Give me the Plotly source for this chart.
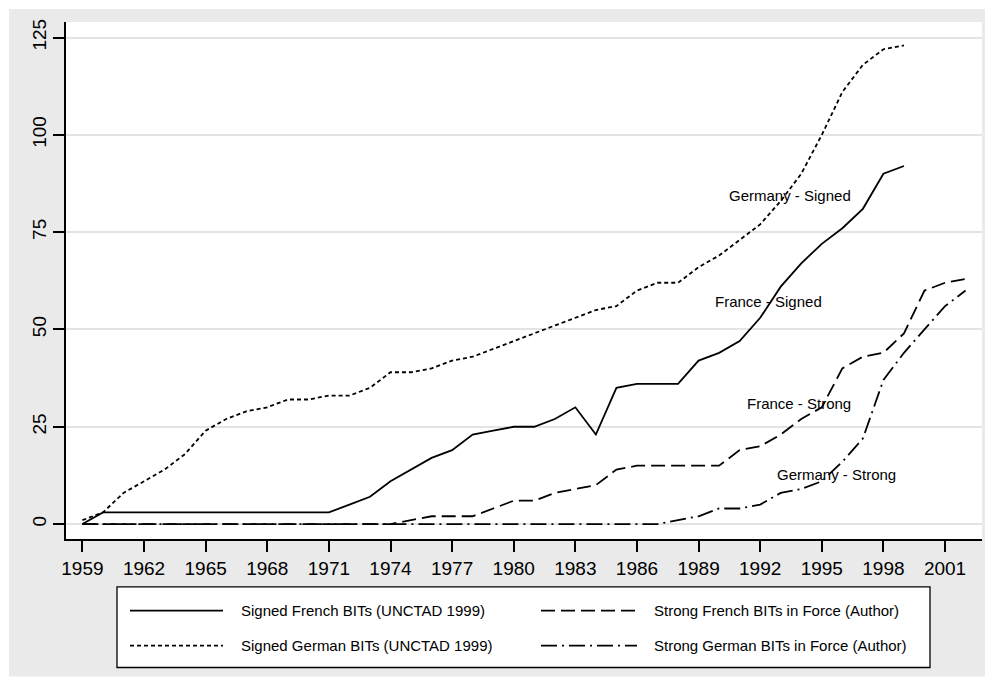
import plotly.graph_objects as go

# ---------------- data ----------------
years_all = list(range(1959, 2003))
years_signed = list(range(1959, 2000))

french_signed = [0, 3, 3, 3, 3, 3, 3, 3, 3, 3, 3, 3, 3, 5, 7, 11, 14, 17, 19, 23,
                 24, 25, 25, 27, 30, 23, 35, 36, 36, 36, 42, 44, 47, 53, 61, 67,
                 72, 76, 81, 90, 92]
german_signed = [1, 3, 8, 11, 14, 18, 24, 27, 29, 30, 32, 32, 33, 33, 35, 39, 39,
                 40, 42, 43, 45, 47, 49, 51, 53, 55, 56, 60, 62, 62, 66, 69, 73,
                 77, 83, 90, 100, 111, 118, 122, 123]
french_strong = [0] * 16 + [1, 2, 2, 2, 4, 6, 6, 8, 9, 10, 14, 15, 15, 15, 15, 15,
                            19, 20, 23, 27, 30, 40, 43, 44, 49, 60, 62, 63]
german_strong = [0] * 29 + [1, 2, 4, 4, 5, 8, 9, 11, 16, 22, 37, 44, 50, 56, 60]

series_names = ["Signed French BITs (UNCTAD 1999)",
                "Strong French BITs in Force (Author)",
                "Signed German BITs (UNCTAD 1999)",
                "Strong German BITs in Force (Author)"]

label_texts = ["Germany - Signed", "France - Signed", "France - Strong", "Germany - Strong"]
label_years = [1993.45, 1992.4, 1993.9, 1995.7]
label_values = [84.4, 57.3, 30.9, 12.7]

x_tick_vals = list(range(1959, 2002, 3))
y_tick_vals = [0, 25, 50, 75, 100, 125]

# ---------------- layout geometry (page pixels) ----------------
OFF = 8                      # default body margin of the html page
PAGE_W, PAGE_H = 993, 679
W, H = PAGE_W - OFF, PAGE_H - OFF
L, R, T, B = 66 - OFF, 982 - OFF, 20 - OFF, 539 - OFF
FONT = "Liberation Sans, Arial, sans-serif"


def px(x):
    return (x - OFF - L) / (R - L)


def py(y):
    return (B - (y - OFF)) / (B - T)


dash_styles = {
    series_names[0]: "solid",
    series_names[1]: "14px,6px",
    series_names[2]: "4px,3px",
    series_names[3]: "16px,5px,2px,5px",
}

fig = go.Figure()
for xs, ys, nm in [(years_signed, french_signed, series_names[0]),
                   (years_all, french_strong, series_names[1]),
                   (years_signed, german_signed, series_names[2]),
                   (years_all, german_strong, series_names[3])]:
    fig.add_trace(go.Scatter(x=xs, y=ys, mode="lines", name=nm,
                             line=dict(color="black", width=1.8, dash=dash_styles[nm])))

shapes = [
    # gray graph region
    dict(type="rect", xref="paper", yref="paper", x0=px(9), x1=px(987), y0=py(677), y1=py(7),
         fillcolor="#eaeaea", line=dict(width=0), layer="below"),
    # white plot region
    dict(type="rect", xref="paper", yref="paper", x0=0, x1=1, y0=0, y1=1,
         fillcolor="white", line=dict(width=0), layer="below"),
    # legend box
    dict(type="rect", xref="paper", yref="paper", x0=px(117), x1=px(930), y0=py(668), y1=py(587),
         fillcolor="white", line=dict(color="black", width=1.3), layer="below"),
]

annotations = []
for t, xv, yv in zip(label_texts, label_years, label_values):
    annotations.append(dict(x=xv, y=yv, xref="x", yref="y", text=t, showarrow=False,
                            xanchor="center", yanchor="middle",
                            font=dict(family=FONT, size=15, color="black")))

legend_pos = [(130, 223, 239, 611), (541, 637, 652, 611),
              (130, 223, 239, 646), (541, 637, 652, 646)]
for name, (lx0, lx1, tx, ly) in zip(series_names, legend_pos):
    shapes.append(dict(type="line", xref="paper", yref="paper", x0=px(lx0), x1=px(lx1),
                       y0=py(ly), y1=py(ly),
                       line=dict(color="black", width=1.8, dash=dash_styles[name]), layer="above"))
    annotations.append(dict(x=px(tx), y=py(ly), xref="paper", yref="paper", text=name,
                            showarrow=False, xanchor="left", yanchor="middle",
                            font=dict(family=FONT, size=15, color="black")))

fig.update_layout(
    width=W, height=H, autosize=False,
    margin=dict(l=L, r=W - R, t=T, b=H - B, pad=0),
    paper_bgcolor="white", plot_bgcolor="white",
    showlegend=False,
    shapes=shapes, annotations=annotations,
    font=dict(family=FONT, color="black"),
)
fig.update_xaxes(range=[1958.2, 2002.8], tickmode="array", tickvals=x_tick_vals,
                 ticktext=[str(v) for v in x_tick_vals],
                 showgrid=False, zeroline=False, showline=True, linecolor="black", linewidth=1.5,
                 ticks="outside", ticklen=11, tickwidth=1.5, tickcolor="black",
                 tickfont=dict(family=FONT, size=19, color="black"))
fig.update_yaxes(range=[-3.84, 129.0], tickmode="array", tickvals=y_tick_vals,
                 ticktext=[str(v) for v in y_tick_vals], tickangle=-90,
                 showgrid=True, gridcolor="#e4e4e4", gridwidth=1.5, zeroline=False,
                 showline=True, linecolor="black", linewidth=1.5,
                 ticks="outside", ticklen=11, tickwidth=1.5, tickcolor="black",
                 tickfont=dict(family=FONT, size=19, color="black"))

fig.write_html("out.html")
